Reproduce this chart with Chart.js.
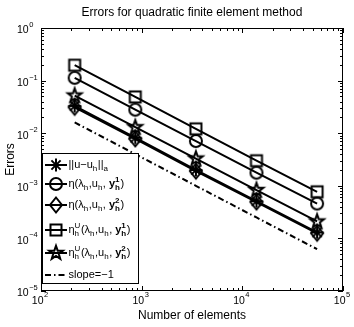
<!DOCTYPE html>
<html>
<head>
<meta charset="utf-8">
<script src="https://cdn.jsdelivr.net/npm/chart.js@4.4.1/dist/chart.umd.min.js"></script>
<style>
  html, body { margin: 0; padding: 0; background: #fff; }
</style>
</head>
<body>
<canvas id="grafico" width="354" height="327"></canvas>
<script>
// dados (eixo log-log)
const elementos   = [216, 864, 3456, 13824, 55296];
const erroEnergia = [0.033, 0.0082, 0.0020, 0.00051, 0.00013];
const etaY1       = [0.113, 0.028, 0.0071, 0.00178, 0.00046];
const etaY2       = [0.031, 0.0078, 0.0019, 0.00049, 0.000125];
const etaUY1      = [0.196, 0.049, 0.0121, 0.0030, 0.00077];
const etaUY2      = [0.052, 0.013, 0.0033, 0.00083, 0.00021];
const inclinacao  = [0.016, 0.004, 0.001, 0.00025, 0.0000625];
const expoentesX  = [2, 3, 4, 5];
const expoentesY  = [0, -1, -2, -3, -4, -5];

const FONTE = '"Liberation Sans", Arial, Helvetica, sans-serif';

// =============================
// marcadores estilo Matlab
// =============================
function desenhaMarcador(g, tipo) {
  g.strokeStyle = '#000';
  g.lineWidth = 2;
  g.beginPath();
  switch (tipo) {
    case 'asterisco':
      for (let k = 0; k < 4; k++) {
        const a = k * Math.PI / 4;
        g.moveTo(-6.5 * Math.cos(a), -6.5 * Math.sin(a));
        g.lineTo(6.5 * Math.cos(a), 6.5 * Math.sin(a));
      }
      break;
    case 'circulo':
      g.arc(0, 0, 6, 0, 2 * Math.PI);
      break;
    case 'losango':
      g.moveTo(0, -7.5); g.lineTo(6, 0); g.lineTo(0, 7.5); g.lineTo(-6, 0); g.closePath();
      break;
    case 'quadrado':
      g.rect(-5.5, -5.5, 11, 11);
      break;
    case 'estrela':
      for (let k = 0; k < 10; k++) {
        const r = k % 2 ? 2.9 : 7.2;
        const a = -Math.PI / 2 + k * Math.PI / 5;
        if (k === 0) g.moveTo(r * Math.cos(a), r * Math.sin(a));
        else g.lineTo(r * Math.cos(a), r * Math.sin(a));
      }
      g.closePath();
      break;
  }
  g.stroke();
}

function marcador(tipo) {
  const c = document.createElement('canvas');
  c.width = 22; c.height = 22;
  const g = c.getContext('2d');
  g.translate(11, 11);
  desenhaMarcador(g, tipo);
  return c;
}

const mAsterisco = marcador('asterisco');
const mCirculo = marcador('circulo');
const mLosango = marcador('losango');
const mQuadrado = marcador('quadrado');
const mEstrela = marcador('estrela');

function serie(valores, estilo) {
  return {
    data: elementos.map((x, i) => ({ x: x, y: valores[i] })),
    borderColor: '#000',
    borderWidth: 2,
    pointStyle: estilo,
    pointRadius: 6,
    fill: false
  };
}

const linhaInclinacao = {
  data: elementos.map((x, i) => ({ x: x, y: inclinacao[i] })),
  borderColor: '#000',
  borderWidth: 2,
  borderDash: [6, 3, 1.5, 3],
  pointRadius: 0,
  fill: false
};

// =============================
// texto com índices (sub/sobrescrito)
// =============================
function textoRico(ctx, x, y, partes) {
  let cx = x;
  ctx.textBaseline = 'middle';
  ctx.textAlign = 'left';
  for (const p of partes) {
    const peso = p.b ? 'bold ' : '';
    if (p.t !== undefined) {
      ctx.font = peso + '11px ' + FONTE;
      ctx.fillText(p.t, cx, y);
      cx += ctx.measureText(p.t).width;
    } else {
      ctx.font = peso + '8px ' + FONTE;
      let w = 0;
      if (p.sub) { ctx.fillText(p.sub, cx, y + 3.5); w = ctx.measureText(p.sub).width; }
      if (p.sup) { ctx.fillText(p.sup, cx, y - 4); w = Math.max(w, ctx.measureText(p.sup).width); }
      cx += w + 0.5;
    }
  }
}

const rotulosLegenda = [
  [{ t: '||u\u2212u' }, { sub: 'h' }, { t: '||' }, { sub: 'a' }],
  [{ t: '\u03b7(\u03bb' }, { sub: 'h' }, { t: ',u' }, { sub: 'h' }, { t: ', ' }, { t: 'y', b: 1 }, { sub: 'h', sup: '1', b: 1 }, { t: ')' }],
  [{ t: '\u03b7(\u03bb' }, { sub: 'h' }, { t: ',u' }, { sub: 'h' }, { t: ', ' }, { t: 'y', b: 1 }, { sub: 'h', sup: '2', b: 1 }, { t: ')' }],
  [{ t: '\u03b7' }, { sub: 'h', sup: 'U' }, { t: '(\u03bb' }, { sub: 'h' }, { t: ',u' }, { sub: 'h' }, { t: ', ' }, { t: 'y', b: 1 }, { sub: 'h', sup: '1', b: 1 }, { t: ')' }],
  [{ t: '\u03b7' }, { sub: 'h', sup: 'U' }, { t: '(\u03bb' }, { sub: 'h' }, { t: ',u' }, { sub: 'h' }, { t: ', ' }, { t: 'y', b: 1 }, { sub: 'h', sup: '2', b: 1 }, { t: ')' }],
  [{ t: 'slope=\u22121' }]
];
const marcadoresLegenda = [mAsterisco, mCirculo, mLosango, mQuadrado, mEstrela, null];
const linhasLegenda = [165, 184, 205, 230, 253, 275];

// =============================
// eixos estilo Matlab: caixa, ticks para dentro, rótulos 10^n
// =============================
const eixosMatlab = {
  id: 'eixosMatlab',
  afterDraw(chart) {
    const ctx = chart.ctx;
    const a = chart.chartArea;
    const sx = chart.scales.x;
    const sy = chart.scales.y;
    ctx.save();
    ctx.strokeStyle = '#000';
    ctx.lineWidth = 1;
    ctx.strokeRect(Math.round(a.left) + 0.5, Math.round(a.top) + 0.5,
      Math.round(a.right - a.left) - 1, Math.round(a.bottom - a.top) - 1);

    ctx.beginPath();
    // ticks x
    for (let d = 2; d <= 5; d++) {
      for (let m = 1; m <= 9; m++) {
        if (d === 5 && m > 1) break;
        const px = Math.round(sx.getPixelForValue(m * Math.pow(10, d))) + 0.5;
        const len = m === 1 ? 5 : 3;
        ctx.moveTo(px, a.bottom); ctx.lineTo(px, a.bottom - len);
        ctx.moveTo(px, a.top); ctx.lineTo(px, a.top + len);
      }
    }
    // ticks y
    for (let d = -5; d <= 0; d++) {
      for (let m = 1; m <= 9; m++) {
        if (d === 0 && m > 1) break;
        const py = Math.round(sy.getPixelForValue(m * Math.pow(10, d))) + 0.5;
        const len = m === 1 ? 5 : 3;
        ctx.moveTo(a.left, py); ctx.lineTo(a.left + len, py);
        ctx.moveTo(a.right, py); ctx.lineTo(a.right - len, py);
      }
    }
    ctx.stroke();

    // rótulos
    ctx.fillStyle = '#000';
    ctx.textBaseline = 'middle';
    ctx.textAlign = 'left';
    expoentesY.forEach(e => {
      const py = sy.getPixelForValue(Math.pow(10, e));
      ctx.font = '10.5px ' + FONTE;
      ctx.fillText('10', 17, py + 2.5);
      const w = ctx.measureText('10').width;
      ctx.font = '7.5px ' + FONTE;
      ctx.fillText(String(e).replace('-', '\u2212'), 17 + w + 0.5, py - 3);
    });
    expoentesX.forEach(e => {
      const px = sx.getPixelForValue(Math.pow(10, e));
      ctx.font = '10.5px ' + FONTE;
      const w = ctx.measureText('10').width;
      ctx.font = '7.5px ' + FONTE;
      const we = ctx.measureText(String(e)).width;
      const x0 = px - (w + we + 0.5) / 2 - 1;
      ctx.font = '10.5px ' + FONTE;
      ctx.fillText('10', x0, a.bottom + 10);
      ctx.font = '7.5px ' + FONTE;
      ctx.fillText(String(e), x0 + w + 0.5, a.bottom + 4);
    });

    // legenda
    ctx.fillStyle = '#fff';
    ctx.fillRect(42.5, 153.5, 96, 130);
    ctx.strokeRect(42.5, 153.5, 96, 130);
    ctx.fillStyle = '#000';
    linhasLegenda.forEach((ly, i) => {
      ctx.beginPath();
      ctx.lineWidth = 2;
      if (i === 5) ctx.setLineDash([6, 3, 1.5, 3]);
      ctx.moveTo(45, ly); ctx.lineTo(67, ly);
      ctx.stroke();
      ctx.setLineDash([]);
      if (marcadoresLegenda[i]) ctx.drawImage(marcadoresLegenda[i], 56 - 11, ly - 11);
      textoRico(ctx, 68.5, ly, rotulosLegenda[i]);
    });
    ctx.restore();
  }
};

new Chart(document.getElementById('grafico'), {
  type: 'line',
  data: {
    datasets: [
      serie(erroEnergia, mAsterisco),
      serie(etaY1, mCirculo),
      serie(etaY2, mLosango),
      serie(etaUY1, mQuadrado),
      serie(etaUY2, mEstrela),
      linhaInclinacao
    ]
  },
  options: {
    responsive: false,
    animation: false,
    layout: { padding: { left: 0, right: 11, top: 0, bottom: 0 } },
    plugins: {
      legend: { display: false },
      tooltip: { enabled: false },
      title: {
        display: true,
        fullSize: false,
        text: 'Errors for quadratic finite element method',
        color: '#000',
        font: { family: FONTE, size: 12, weight: 'normal' },
        padding: { top: 5, bottom: 8.6 }
      }
    },
    scales: {
      x: {
        type: 'logarithmic',
        min: 100,
        max: 100000,
        ticks: { display: false },
        grid: { display: false },
        border: { display: false },
        title: {
          display: true,
          text: 'Number of elements',
          color: '#000',
          font: { family: FONTE, size: 12 },
          padding: { top: 0, bottom: 4 }
        },
        afterFit(s) { s.height = 36; }
      },
      y: {
        type: 'logarithmic',
        min: 0.00001,
        max: 1,
        ticks: { display: false },
        grid: { display: false },
        border: { display: false },
        title: {
          display: true,
          text: 'Errors',
          color: '#000',
          font: { family: FONTE, size: 12 },
          padding: { top: 3, bottom: 0 }
        },
        afterFit(s) { s.width = 41; }
      }
    }
  },
  plugins: [eixosMatlab]
});
</script>
</body>
</html>
